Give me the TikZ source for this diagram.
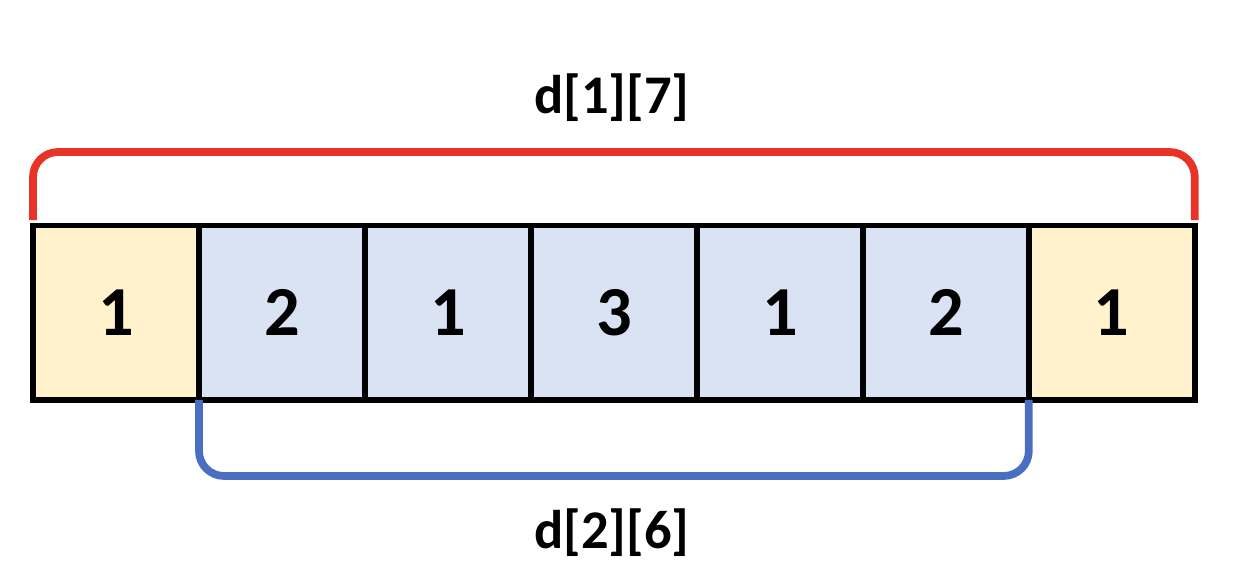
\documentclass[tikz,border=0pt]{standalone}
\usepackage{fontspec}
\setmainfont{Carlito}
\usetikzlibrary{positioning}
\definecolor{cellyel}{HTML}{FFF2CC}
\definecolor{cellblu}{HTML}{DAE3F3}
\definecolor{spanred}{HTML}{E83426}
\definecolor{spanblu}{HTML}{4A6FC0}
\tikzset{
  % casella dell'array
  cell/.style={draw=black, line width=0.11cm, minimum width=3.32cm, minimum height=3.49cm,
    inner sep=0pt, outer sep=0pt, font=\fontsize{40}{40}\selectfont\bfseries},
  cell end/.style={cell, fill=cellyel},
  cell mid/.style={cell, fill=cellblu},
  % parentesi sopra/sotto l'intervallo
  span/.style={line width=0.155cm, rounded corners=0.5cm},
  % etichetta dell'intervallo
  lbl/.style={font=\fontsize{31}{31}\selectfont\bfseries},
}
\begin{document}
\begin{tikzpicture}[x=0.02cm, y=-0.02cm]
  \useasboundingbox (0,0) rectangle (1240,578);
  \node[cell end, anchor=north west] (c1) at (33,225.5) {1};
  \foreach \v/\i/\j in {2/2/1, 1/3/2, 3/4/3, 1/5/4, 2/6/5} \node[cell mid, right=0pt of c\j] (c\i) {\v};
  \node[cell end, right=0pt of c6] (c7) {1};
  \draw[span, spanred] ([yshift=0.11cm]c1.north west) |- ([yshift=1.47cm]c4.north) -| ([yshift=0.11cm]c7.north east);
  \draw[span, spanblu] (c2.south west) |- ([yshift=-1.52cm]c4.south) -| (c6.south east);
  \node[lbl] (top) at (612,98) {d[1][7]};
  \node[lbl] (bot) at (612,533) {d[2][6]};
\end{tikzpicture}
\end{document}
